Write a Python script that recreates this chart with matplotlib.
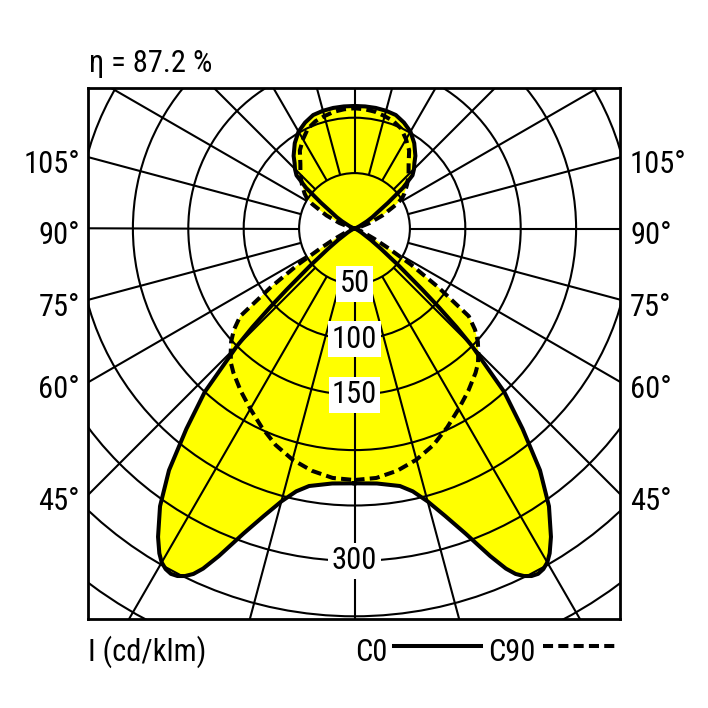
import numpy as np
import matplotlib
matplotlib.use('Agg')
import matplotlib.pyplot as plt
from matplotlib.lines import Line2D
from matplotlib.patches import Circle

plt.rcParams['font.family'] = ['Roboto Condensed', 'DejaVu Sans']

# ---- data (gamma measured from nadir, intensity in cd/klm) ----
gamma_c0 = [0, 5, 10, 12.5, 15, 17.5, 20, 22.5, 24, 25, 26, 27, 28, 29, 30, 31,
            32.5, 35, 37.5, 40, 42.5, 45, 46, 47, 48, 50, 52.5, 55, 60, 65, 70,
            80, 90, 100, 110, 115, 120, 122.5, 125, 127.5, 130, 132.5, 135,
            137.5, 140, 145, 150, 155, 160, 165, 170, 175, 180]
int_c0 = [230, 231, 236, 243, 255, 272, 293, 320, 336, 344, 349, 352, 353, 351.5, 348, 342,
          330, 306, 275, 236, 200, 150, 128, 104, 82, 52, 30, 18, 7, 3, 1,
          0, 0, 0, 2, 5, 13, 19, 25, 38, 57, 71, 76,
          80, 85.5, 94, 101, 105.5, 109, 110, 110.5, 110.6, 110.6]

gamma_c90 = [0, 5, 10, 15, 20, 25, 30, 35, 40, 42.5, 45, 47.5, 50, 52.5, 55,
             57.5, 60, 62.5, 65, 70, 75, 80, 90, 100, 105, 110, 115, 120,
             122.5, 125, 130, 135, 140, 145, 150, 155, 160, 165, 170, 175, 180]
int_c90 = [227, 226, 222, 216, 208, 198, 188, 179, 170, 165, 158, 151, 142, 130, 92,
           60, 34, 20, 11, 5, 2, 0, 0, 1, 5, 14.5, 28, 44,
           51, 55, 62, 69, 76, 86, 93, 99.5, 103, 105, 107, 108, 108.5]

ring_values = [50, 100, 150, 200, 250, 300, 350, 400, 450, 500, 550]
ring_labels = [50, 100, 150, 300]
angle_labels = [45, 60, 75, 90, 105]
spoke_angles = list(range(0, 360, 15))
efficiency_text = "η = 87.2 %"
unit_text = "I (cd/klm)"
series_names = ["C0", "C90"]

# ---- figure geometry ----
W = 708
fig = plt.figure(figsize=(7.08, 7.08), dpi=100)
L, R, T, B = 88, 620, 88, 619
ax = fig.add_axes([L / W, 1 - B / W, (R - L) / W, (B - T) / W])
scale = 1.108          # px per cd/klm
cx, cy = 354.5, 228.5  # pole position in px
ax.set_xlim((L - cx) / scale, (R - cx) / scale)
ax.set_ylim(-(B - cy) / scale, (cy - T) / scale)
ax.set_xticks([]); ax.set_yticks([])
for s in ax.spines.values():
    s.set_linewidth(2.0)
    s.set_zorder(10)


def outline(g, r):
    g = np.radians(np.asarray(g, float))
    r = np.asarray(r, float)
    xr, yr = r * np.sin(g), -r * np.cos(g)
    xs = np.concatenate([xr, -xr[::-1]])
    ys = np.concatenate([yr, yr[::-1]])
    return xs, ys


x0, y0 = outline(gamma_c0, int_c0)
x9, y9 = outline(gamma_c90, int_c90)

yellow = '#ffff00'
ax.fill(x0, y0, color=yellow, lw=0, zorder=1)
ax.fill(x9, y9, color=yellow, lw=0, zorder=1)

# grid
glw = 1.5
for rv in ring_values:
    ax.add_patch(Circle((0, 0), rv, fill=False, ec='black', lw=glw, zorder=2))
for a in spoke_angles:
    t = np.radians(a)
    ax.plot([50 * np.sin(t), 900 * np.sin(t)], [-50 * np.cos(t), -900 * np.cos(t)],
            color='black', lw=glw, zorder=2, solid_capstyle='butt')

# curves
ax.plot(x0, y0, color='black', lw=2.9, zorder=3, solid_joinstyle='round')
ax.plot(x9, y9, color='black', lw=2.9, zorder=3, linestyle=(0, (2.5, 1.3)))

# ring labels
for v in ring_labels:
    ax.text(0, -v, str(v), ha='center', va='center', fontsize=22, zorder=5,
            bbox=dict(fc='white', ec='none', pad=2.5))

# angle labels
xe = (R - cx) / scale
for a in angle_labels:
    yline = -xe / np.tan(np.radians(a)) if a != 90 else 0.0
    yb = yline - 16 / scale
    ax.text((80 - cx) / scale, yb, f"{a}°", ha='right', va='baseline',
            fontsize=22, clip_on=False)
    ax.text((630 - cx) / scale, yb, f"{a}°", ha='left', va='baseline',
            fontsize=22, clip_on=False)

# header / footer texts
fig.text(89 / W, 1 - 72 / W, efficiency_text, fontsize=22, va='baseline', ha='left')
fig.text(88 / W, 1 - 661 / W, unit_text, fontsize=22, va='baseline', ha='left')
fig.text(355 / W, 1 - 661 / W, series_names[0], fontsize=22, va='baseline', ha='left')
fig.text(488 / W, 1 - 661 / W, series_names[1], fontsize=22, va='baseline', ha='left')
fig.add_artist(Line2D([394 / W, 481 / W], [1 - 646 / W, 1 - 646 / W],
                      transform=fig.transFigure, color='black', lw=2.9))
fig.add_artist(Line2D([543 / W, 616 / W], [1 - 646 / W, 1 - 646 / W],
                      transform=fig.transFigure, color='black', lw=2.9,
                      linestyle=(0, (2.5, 1.3))))

fig.savefig('out.png', dpi=100, facecolor='white')
